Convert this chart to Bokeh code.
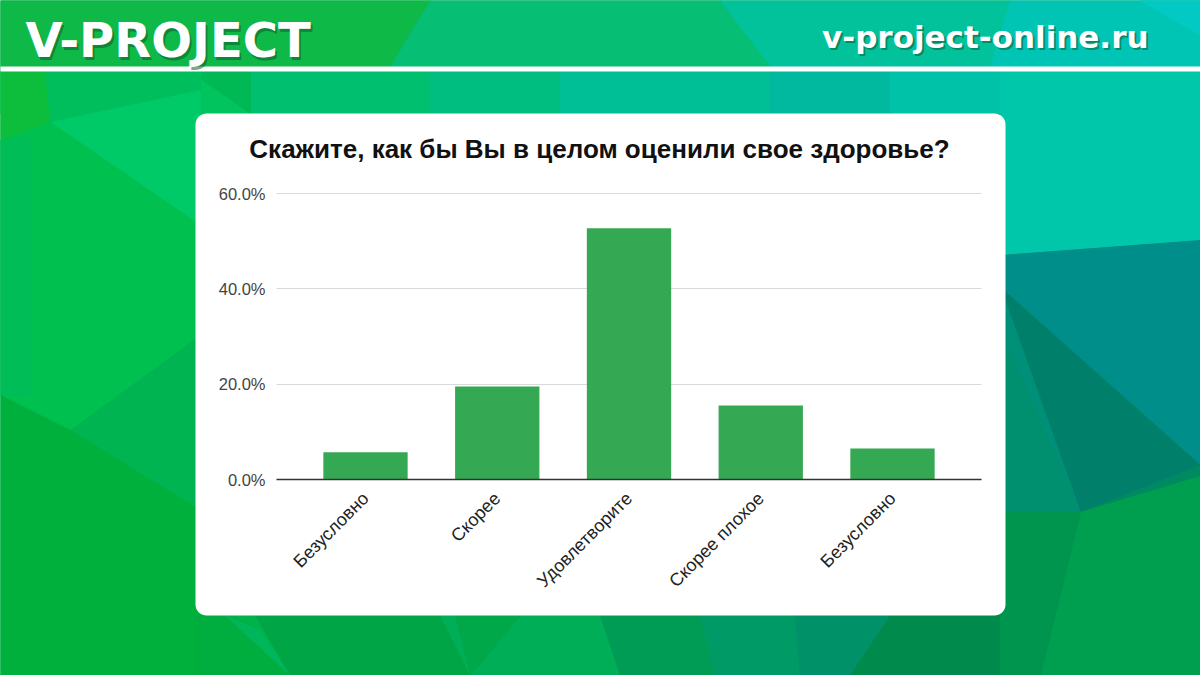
import math
import numpy as np
from bokeh.plotting import figure
from bokeh.models import Range1d, LinearAxis, FixedTicker, NumeralTickFormatter, Grid, Label
from bokeh.embed import file_html
from bokeh.resources import INLINE

# ---------------- data ----------------
categories = ["Безусловно", "Скорее", "Удовлетворите", "Скорее плохое", "Безусловно"]
shares = [0.057, 0.195, 0.527, 0.155, 0.065]
y_ticks = [0.0, 0.2, 0.4, 0.6]
title_text = "Скажите, как бы Вы в целом оценили свое здоровье?"
brand_text = "V-PROJECT"
site_text = "v-project-online.ru"

# ---------------- layout constants (pixels) ----------------
W, H = 1200, 675
PX_ZERO, PX_TOP = 479, 193          # pixel rows of 0% and 60%
CX0, STEP = 365, 131.75             # pixel of first category centre, spacing
GRID_L, GRID_R = 276, 981
CARD = (195, 113, 1005, 615, 11)

p = figure(width=W, height=H, x_range=Range1d(0, W), y_range=Range1d(H, 0),
           x_axis_type=None, y_axis_type=None, output_backend="svg",
           toolbar_location=None, min_border=0, outline_line_color=None)
p.background_fill_color = "#00b24a"
p.border_fill_color = "#00b24a"

ppu = (PX_ZERO - PX_TOP) / 0.6
p.extra_y_ranges = {"pct": Range1d(start=-(H - PX_ZERO) / ppu, end=PX_ZERO / ppu)}
p.extra_x_ranges = {"cat": Range1d(start=-CX0 / STEP, end=(W - CX0) / STEP)}

# ---------------- decorative background ----------------
bg = [
    # header band
    ([0, 430, 390, 0], [0, 0, 66, 66], "#0fb947"),
    ([430, 720, 770, 390], [0, 0, 66, 66], "#06be74"),
    ([720, 1010, 990, 770], [0, 0, 66, 66], "#02c29c"),
    ([1010, 1200, 1200, 990], [0, 0, 66, 66], "#00c4b4"),
    ([1140, 1200, 1200], [0, 0, 35], "#03c9c4"),
    # strip above card
    ([0, 250, 250, 0], [71, 71, 113, 113], "#02c45e"),
    ([250, 430, 430, 250], [71, 71, 113, 113], "#00c070"),
    ([430, 560, 560, 430], [71, 71, 113, 113], "#00bd80"),
    ([560, 770, 770, 560], [71, 71, 113, 113], "#00be96"),
    ([770, 890, 890, 770], [71, 71, 113, 113], "#00b99e"),
    ([890, 1200, 1200, 890], [71, 71, 113, 113], "#00c2a8"),
    ([190, 250, 250], [71, 71, 113], "#00b955"),
    # left strip
    ([0, 45, 50, 0], [71, 71, 122, 140], "#0dbd3c"),
    ([45, 200, 200, 50], [71, 71, 90, 122], "#00be5c"),
    ([50, 200, 200], [122, 90, 225], "#00c968"),
    ([0, 50, 200, 200, 70, 0], [140, 122, 225, 335, 430, 395], "#00c150"),
    ([0, 30, 30, 0], [140, 135, 395, 395], "#00bd58"),
    ([70, 200, 200], [430, 335, 510], "#00b452"),
    ([0, 70, 200, 200, 0], [395, 430, 510, 675, 675], "#00b03d"),
    # bottom strip
    ([195, 230, 260, 290, 290, 195], [615, 615, 630, 675, 675, 675], "#00ae3f"),
    ([225, 260, 290], [615, 630, 675], "#00b65a"),
    ([255, 440, 470, 290], [615, 615, 675, 675], "#00a646"),
    ([440, 600, 620, 470], [615, 615, 675, 675], "#00ae57"),
    ([455, 520, 470], [615, 615, 675], "#00a84a"),
    ([600, 700, 715, 620], [615, 615, 675, 675], "#009c55"),
    ([700, 795, 800, 715], [615, 615, 675, 675], "#009a66"),
    ([795, 890, 850, 800], [615, 615, 675, 675], "#009168"),
    ([890, 1005, 1005, 850], [615, 615, 675, 675], "#008a4b"),
    # right strip
    ([1000, 1200, 1200, 1000], [71, 71, 240, 255], "#00c7aa"),
    ([1000, 1200, 1200, 1000], [255, 240, 465, 287], "#008e8a"),
    ([1000, 1200, 1080], [287, 465, 512], "#00806a"),
    ([1000, 1080, 1000], [287, 512, 330], "#008f78"),
    ([1000, 1080, 1000], [330, 512, 512], "#009070"),
    ([1080, 1200, 1200], [512, 465, 476], "#008a62"),
    ([1000, 1080, 1200, 1200, 1000], [512, 512, 476, 675, 675], "#009f50"),
    ([1000, 1080, 1040, 1000], [512, 512, 675, 675], "#00954e"),
]
p.patches(xs=[b[0] for b in bg], ys=[b[1] for b in bg],
          fill_color=[b[2] for b in bg], line_color=[b[2] for b in bg],
          line_width=1, level="image")

# header separator line
p.quad(left=0, right=W, top=66, bottom=71, fill_color="white", line_color=None, level="image")

# rounded white card
def rounded_rect(x0, y0, x1, y1, r, n=10):
    xs, ys = [], []
    corners = [(x1 - r, y0 + r, -90, 0), (x1 - r, y1 - r, 0, 90),
               (x0 + r, y1 - r, 90, 180), (x0 + r, y0 + r, 180, 270)]
    for cx, cy, a0, a1 in corners:
        for a in np.linspace(math.radians(a0), math.radians(a1), n):
            xs.append(cx + r * math.cos(a))
            ys.append(cy + r * math.sin(a))
    return xs, ys

cx, cy = rounded_rect(*CARD)
p.patch(cx, cy, fill_color="white", line_color=None, level="image")

# ---------------- chart ----------------
grid = Grid(dimension=1, y_range_name="pct", ticker=FixedTicker(ticks=y_ticks),
            grid_line_color="#d9d9d9", grid_line_width=1,
            cross_bounds=(GRID_L, GRID_R))
p.add_layout(grid)

p.vbar(x=list(range(len(categories))), top=shares, bottom=0, width=0.64,
       x_range_name="cat", y_range_name="pct",
       fill_color="#34a853", line_color=None)

yax = LinearAxis(y_range_name="pct", fixed_location=GRID_L,
                 ticker=FixedTicker(ticks=y_ticks),
                 formatter=NumeralTickFormatter(format="0.0%"),
                 axis_line_color=None, major_tick_line_color=None,
                 minor_tick_line_color=None,
                 major_label_text_font="Liberation Sans",
                 major_label_text_font_size="16.5px",
                 major_label_text_color="#444444",
                 major_label_standoff=5)
p.add_layout(yax, "left")

xax = LinearAxis(x_range_name="cat", fixed_location=PX_ZERO,
                 ticker=FixedTicker(ticks=list(range(len(categories)))),
                 major_label_overrides={i: c for i, c in enumerate(categories)},
                 major_label_orientation=math.pi / 4,
                 bounds=((GRID_L - CX0) / STEP, (GRID_R - CX0) / STEP),
                 axis_line_color="#333333", axis_line_width=1.3,
                 major_tick_line_color=None, minor_tick_line_color=None,
                 major_label_text_font="Liberation Sans",
                 major_label_text_font_size="18px",
                 major_label_text_color="#222222",
                 major_label_standoff=10)
p.add_layout(xax, "below")

# ---------------- texts ----------------
p.add_layout(Label(x=599, y=148, text=title_text, text_align="center",
                   text_baseline="alphabetic", text_font="Liberation Sans",
                   text_font_style="bold", text_font_size="26px",
                   text_color="#111111"))

p.add_layout(Label(x=27, y=42, text=brand_text, text_font="DejaVu Sans",
                   text_font_style="bold", text_font_size="48px",
                   text_color="#0a5a30", text_alpha=0.55, text_baseline="alphabetic"))
p.add_layout(Label(x=25, y=39, text=brand_text, text_font="DejaVu Sans",
                   text_font_style="bold", text_font_size="48px",
                   text_color="white", text_baseline="alphabetic"))

p.add_layout(Label(x=1150, y=38, text=site_text, text_align="right",
                   text_font="DejaVu Sans", text_font_style="bold",
                   text_font_size="31px", text_color="#0a5a30", text_alpha=0.55,
                   text_baseline="alphabetic"))
p.add_layout(Label(x=1148, y=36, text=site_text, text_align="right",
                   text_font="DejaVu Sans", text_font_style="bold",
                   text_font_size="31px", text_color="white",
                   text_baseline="alphabetic"))

open("out.html", "w").write(file_html(p, INLINE))
